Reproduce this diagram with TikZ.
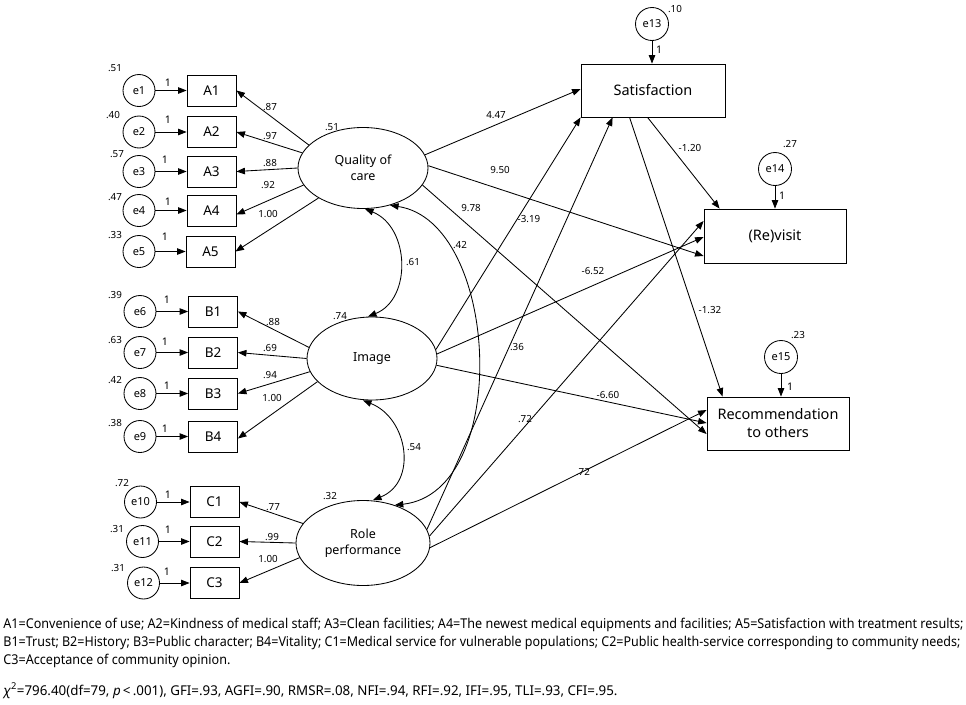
\documentclass[tikz,border=0pt]{standalone}
\usepackage{fontspec}
\usepackage{graphicx}
\setmainfont{Noto Sans}
\usetikzlibrary{arrows.meta,calc,shapes.geometric}
\begin{document}
\begin{tikzpicture}[x=1pt,y=-1pt,
  line width=0.85pt,
  arr/.style={-{Triangle[length=8.5pt,width=6.5pt]}},
  darr/.style={{Triangle[length=8.5pt,width=6.5pt]}-{Triangle[length=8.5pt,width=6.5pt]}},
  errc/.style={circle,draw,minimum size=32pt,inner sep=0pt,font=\fontsize{11}{12}\selectfont},
  obs/.style={rectangle,draw,minimum width=49pt,minimum height=31pt,inner sep=0pt,font=\fontsize{13.5}{15}\selectfont},
  big/.style={rectangle,draw,minimum width=143pt,minimum height=53pt,inner sep=0pt,align=center,font=\fontsize{14.5}{18}\selectfont},
  lat/.style={ellipse,draw,inner sep=0pt,align=center,font=\fontsize{12.5}{16}\selectfont},
  lab/.style={inner sep=0pt,font=\fontsize{9.8}{10}\selectfont},
  one/.style={inner sep=0pt,font=\fontsize{10.5}{10}\selectfont},
  foot/.style={anchor=base west,inner sep=0pt,font=\fontsize{13.5}{16}\selectfont},
]
\fill[white] (0,0) rectangle (966,704);
\useasboundingbox (0,0) rectangle (966,704);

% latent variables
\node[lat,minimum width=130pt,minimum height=81pt] (q) at (363,168) {Quality of\\care};
\node[lat,minimum width=130pt,minimum height=83pt] (im) at (372,358.5) {Image};
\node[lat,minimum width=134pt,minimum height=85pt] (rp) at (363,543) {Role\\performance};

% observed indicators
\node[obs] (A1) at (211.5,90.5) {A1};
\node[obs] (A2) at (211.5,132) {A2};
\node[obs] (A3) at (211.5,171.5) {A3};
\node[obs] (A4) at (211.5,210.5) {A4};
\node[obs] (A5) at (210.5,251.5) {A5};
\node[obs] (B1) at (213,311.5) {B1};
\node[obs] (B2) at (213,352.5) {B2};
\node[obs] (B3) at (213,393.5) {B3};
\node[obs] (B4) at (213,436.5) {B4};
\node[obs] (C1) at (214.5,502) {C1};
\node[obs] (C2) at (214.5,541.5) {C2};
\node[obs] (C3) at (214.5,583) {C3};

% error terms
\node[errc] (e1) at (139,90.5) {e1};
\node[errc] (e2) at (139,132) {e2};
\node[errc] (e3) at (139,171.5) {e3};
\node[errc] (e4) at (139,210.5) {e4};
\node[errc] (e5) at (139,251.5) {e5};
\node[errc] (e6) at (140,311.5) {e6};
\node[errc] (e7) at (140,352.5) {e7};
\node[errc] (e8) at (140,393.5) {e8};
\node[errc] (e9) at (140,436.5) {e9};
\node[errc] (e10) at (140.5,502) {e10};
\node[errc] (e11) at (142.5,541.5) {e11};
\node[errc] (e12) at (143.5,583) {e12};

% outcome boxes
\node[big,minimum width=144pt] (sat) at (653,90.5) {Satisfaction};
\node[big,minimum width=142pt,minimum height=54pt] (rev) at (775,236) {(Re)visit};
\node[big,minimum width=142pt] (rec) at (778,423.5) {Recommendation\\to others};
\node[errc,minimum size=33pt] (e13) at (652,24) {e13};
\node[errc,minimum size=33pt] (e14) at (775,169) {e14};
\node[errc,minimum size=33pt] (e15) at (781,357) {e15};

% error arrows
\foreach \i/\j in {e1/A1,e2/A2,e3/A3,e4/A4,e5/A5,e6/B1,e7/B2,e8/B3,e9/B4,e10/C1,e11/C2,e12/C3}
  \draw[arr] (\i) -- (\j);
\draw[arr] (e13.south) -- (e13.south |- sat.north);
\draw[arr] (e14.south) -- (e14.south |- rev.north);
\draw[arr] (e15.south) -- (e15.south |- rec.north);

% loadings
\draw[arr] (q.157) -- (A1.east);
\draw[arr] (q.166) -- (A2.east);
\draw[arr] (q.180) -- (A3.east);
\draw[arr] (q.196) -- ($(A4.east)+(0,4)$);
\draw[arr] (q.214) -- (A5.east);
\draw[arr] (im.170) -- (B1.east);
\draw[arr] (im.180) -- (B2.east);
\draw[arr] (im.192) -- (B3.east);
\draw[arr] (im.203) -- ($(B4.east)+(0,2)$);
\draw[arr] (rp.162) -- (C1.east);
\draw[arr] (rp.180) -- (C2.east);
\draw[arr] (rp.193) -- (C3.east);

% structural paths
\draw[arr] (q.12) -- ($(sat.west)+(0,-1.5)$);
\draw[arr] (q.2) -- ($(rev.west)+(0,20)$);
\draw[arr] (q.-16) -- ($(rec.west)+(0,10.5)$);
\draw[arr] (im.8) -- (sat.south west);
\draw[arr] (im.4) -- ($(rev.west)+(0,1)$);
\draw[arr] (im.-6) -- ($(rec.west)+(0,-0.5)$);
\draw[arr] (rp.12) -- ($(sat.south west)+(32,0)$);
\draw[arr] (rp.6) -- ($(rev.west)+(0,-15)$);
\draw[arr] (rp.-4) -- ($(rec.west)+(0,-13.5)$);
\draw[arr] ($(sat.south west)+(67,0)$) -- ($(rev.north west)+(16,0)$);
\draw[arr] ($(sat.south west)+(49,0)$) -- ($(rec.north west)+(16,0)$);

% covariances
\draw[darr] ($(q.south)+(2,0)$) .. controls (410,227) and (412,299) .. ($(im.north)+(-4,0)$);
\draw[darr] ($(im.south)+(-9,0)$) .. controls (408,418) and (418,482) .. ($(rp.north)+(10,0)$);
\draw[darr] (q.-54) .. controls (500,222) and (512,492) .. (rp.50);

% variance labels
\foreach \t/\x/\y in {.51/115/68,.40/113/115,.57/117/154,.47/115/197,.33/115/235,
  .39/115/295,.63/115/340,.42/115/380,.38/115/423,.72/122/483,.31/117/529,.31/118/568,
  .10/675/9,.27/790/144,.23/798/335,.51/332/127,.74/340/316,.32/330/496}
  \node[lab] at (\x,\y) {\t};

% "1" labels
\foreach \x/\y in {168/83,168/120,165/160,168/202,165/237,167/300,165/342,167/386,165/429,
  168/495,168/530,167/572,659/50,782/196,790/387}
  \node[one] at (\x,\y) {1};

% loading labels
\foreach \t/\x/\y in {.87/270/107,.97/270/136,.88/270/163,.92/268/185,1.00/268/214,
  .88/273/322,.69/270/348,.94/270/375,1.00/272/398,.77/273/507,.99/272/537,1.00/268/559}
  \node[lab] at (\x,\y) {\t};

% structural labels
\foreach \t/\x/\y in {4.47/496/115,9.50/500/170,9.78/471/208,-3.19/529/219,-1.20/690/148,
  .42/460/245,-6.52/593/271,.36/517/347,-6.60/608/395,.72/525/419,.72/583/472,-1.32/710/310,
  .61/413/262,.54/414/447}
  \node[lab] at (\x,\y) {\t};

% footnote
\node[foot] (f1) at (3,628) {\resizebox{960pt}{\height}{A1=Convenience of use; A2=Kindness of medical staff; A3=Clean facilities; A4=The newest medical equipments and facilities; A5=Satisfaction with treatment results;}};
\node[foot] (f2) at (3,646) {\resizebox{957pt}{\height}{B1=Trust; B2=History; B3=Public character; B4=Vitality; C1=Medical service for vulnerable populations; C2=Public health-service corresponding to community needs;}};
\node[foot] (f3) at (3,664) {\resizebox{227pt}{\height}{C3=Acceptance of community opinion.}};
\node[foot] (f4) at (3,695) {\resizebox{614pt}{\height}{{\itshape χ}\textsuperscript{2}=796.40(df=79, {\itshape p}\,<\,.001), GFI=.93, AGFI=.90, RMSR=.08, NFI=.94, RFI=.92, IFI=.95, TLI=.93, CFI=.95.}};
\end{tikzpicture}
\end{document}
